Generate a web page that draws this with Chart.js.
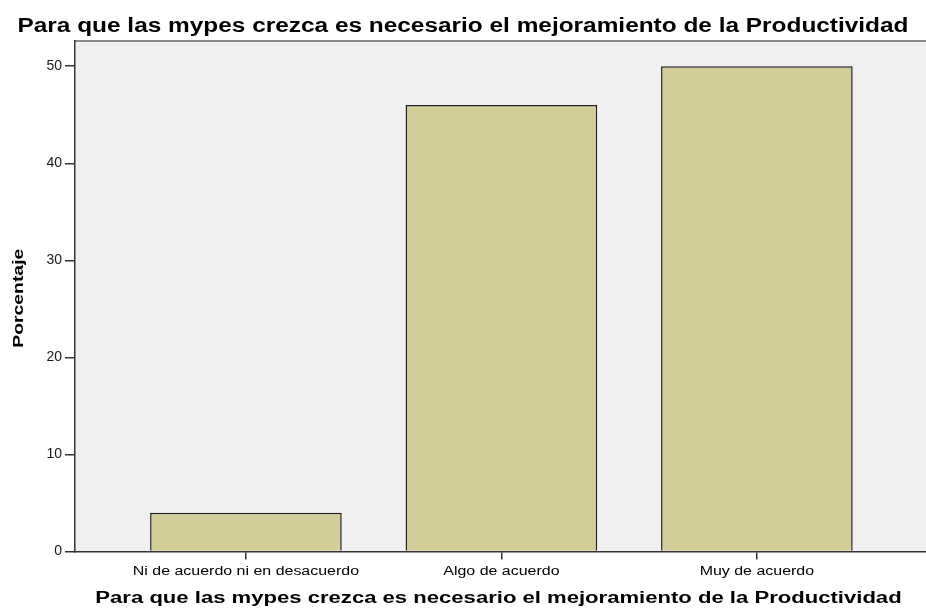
<!DOCTYPE html>
<html>
<head>
<meta charset="utf-8">
<script src="https://cdn.jsdelivr.net/npm/chart.js@4/dist/chart.umd.min.js"></script>
<style>
  html, body { margin: 0; padding: 0; background: #ffffff; }
  #wrap { width: 926px; height: 610px; position: relative; }
</style>
</head>
<body>
<div id="wrap"><canvas id="c"></canvas></div>
<script>
const titleText = "Para que las mypes crezca es necesario el mejoramiento de la Productividad";
const categories = ["Ni de acuerdo ni en desacuerdo", "Algo de acuerdo", "Muy de acuerdo"];
const percentages = [4, 46, 50];
const yTicks = [0, 10, 20, 30, 40, 50];
const yAxisTitle = "Porcentaje";

const FONT = 'Liberation Sans, Arial, sans-serif';

const plotBg = {
  id: 'plotBg',
  beforeDraw(chart) {
    const { ctx, chartArea: a } = chart;
    ctx.save();
    ctx.fillStyle = '#ffffff';
    ctx.fillRect(0, 0, chart.width, chart.height);
    ctx.fillStyle = '#f0f0f0';
    ctx.fillRect(a.left, a.top, a.right - a.left, a.bottom - a.top);
    ctx.strokeStyle = '#8a8a8a';
    ctx.lineWidth = 2;
    ctx.beginPath();
    ctx.moveTo(a.left, a.top);
    ctx.lineTo(a.right, a.top);
    ctx.stroke();
    ctx.restore();
  }
};

// The reference uses a wide-set face; draw titles and category labels with a horizontal stretch.
function wideText(ctx, text, x, y, font, sx, rot) {
  ctx.save();
  ctx.font = font;
  ctx.fillStyle = '#000000';
  ctx.textAlign = 'center';
  ctx.textBaseline = 'alphabetic';
  ctx.translate(x, y);
  if (rot) ctx.rotate(rot);
  ctx.scale(sx, 1);
  ctx.fillText(text, 0, 0);
  ctx.restore();
}

const wideTexts = {
  id: 'wideTexts',
  afterDraw(chart) {
    const { ctx, chartArea: a } = chart;
    const xs = chart.scales.x;
    // main title
    wideText(ctx, titleText, chart.width / 2, 31.5, 'bold 20px ' + FONT, 1.22, 0);
    // x axis title
    wideText(ctx, titleText, (a.left + a.right) / 2 - 2, 603, 'bold 16px ' + FONT, 1.38, 0);
    // y axis title
    wideText(ctx, yAxisTitle, 23, (a.top + a.bottom) / 2 + 2, 'bold 15.5px ' + FONT, 1.25, -Math.PI / 2);
    // category labels
    categories.forEach((c, i) => {
      wideText(ctx, c, xs.getPixelForValue(i), 575, '12px ' + FONT, 1.33, 0);
    });
  }
};

new Chart(document.getElementById('c'), {
  type: 'bar',
  data: {
    datasets: [{
      data: categories.map((c, i) => ({ x: i, y: percentages[i] })),
      backgroundColor: '#d3ce97',
      borderColor: '#1e1e1e',
      borderWidth: 1.5,
      barPercentage: 0.75,
      categoryPercentage: 1.0
    }]
  },
  options: {
    responsive: true,
    maintainAspectRatio: false,
    animation: false,
    devicePixelRatio: 1,
    layout: { padding: { top: 41, left: 0, right: 0, bottom: 0 } },
    plugins: {
      legend: { display: false },
      tooltip: { enabled: false },
      title: { display: false }
    },
    scales: {
      x: {
        type: 'linear',
        min: -0.669,
        max: 2.662,
        offset: false,
        afterBuildTicks(scale) { scale.ticks = categories.map((c, i) => ({ value: i })); },
        afterFit(scale) { scale.height = 58.5; },
        ticks: { display: false },
        grid: { display: true, offset: false, drawOnChartArea: false, drawTicks: true, tickLength: 8, color: '#333333', lineWidth: 1.5 },
        border: { display: true, color: '#333333', width: 1.5 }
      },
      y: {
        type: 'linear',
        min: 0,
        max: 52.6,
        afterBuildTicks(scale) { scale.ticks = yTicks.map(v => ({ value: v })); },
        afterFit(scale) { scale.width = 75; },
        ticks: {
          color: '#1a1a1a',
          padding: 3,
          font: { family: FONT, size: 14 }
        },
        grid: { display: true, drawOnChartArea: false, drawTicks: true, tickLength: 10, color: '#333333', lineWidth: 1.5 },
        border: { display: true, color: '#333333', width: 1.5 }
      }
    }
  },
  plugins: [plotBg, wideTexts]
});
</script>
</body>
</html>
